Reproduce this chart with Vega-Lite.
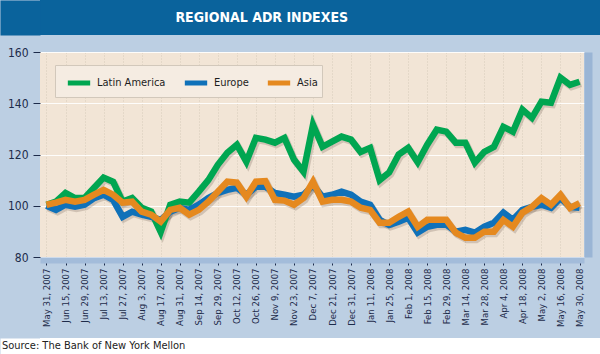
{
  "$schema": "https://vega.github.io/schema/vega-lite/v6.json",
  "background": "#bccfe3",
  "padding": 0,
  "spacing": 11,
  "columns": 1,
  "resolve": {"legend": {"color": "independent"}, "scale": {"x": "independent", "y": "independent"}},
  "config": {
    "font": "DejaVu Sans Condensed, Liberation Sans, sans-serif",
    "view": {"stroke": null}
  },
  "concat": [
    {
      "width": 560,
      "height": 35,
      "view": {"fill": "#0a639c", "stroke": null},
      "data": {"values": [{"title": "REGIONAL ADR INDEXES"}]},
      "mark": {"type": "text", "font": "DejaVu Sans Condensed, Liberation Sans, sans-serif", "fontWeight": "bold", "fontSize": 14, "color": "#ffffff", "baseline": "middle", "align": "center"},
      "encoding": {
        "text": {"field": "title", "type": "nominal"},
        "x": {"datum": 0.396, "type": "quantitative", "scale": {"domain": [0, 1]}, "axis": null},
        "y": {"datum": 0, "type": "quantitative", "scale": {"domain": [-1, 1]},
              "axis": {"title": null, "labels": false, "ticks": false, "grid": false, "domain": true, "domainColor": "#0a639c", "domainWidth": 40, "domainCap": "butt", "offset": 20, "minExtent": 0, "maxExtent": 0}}
      }
    },
    {
      "width": 544,
      "height": 205,
      "view": {"fill": "#f2e5d6", "stroke": null},
      "resolve": {"axis": {"y": "independent"}},
      "data": {"values": [
        {"week":0,"region":"Latin America","value":100.4},{"week":1,"region":"Latin America","value":101.6},{"week":2,"region":"Latin America","value":105},{"week":3,"region":"Latin America","value":103},{"week":4,"region":"Latin America","value":103},{"week":5,"region":"Latin America","value":107},{"week":6,"region":"Latin America","value":111},{"week":7,"region":"Latin America","value":109.4},{"week":8,"region":"Latin America","value":101.6},{"week":9,"region":"Latin America","value":103},{"week":10,"region":"Latin America","value":99.2},{"week":11,"region":"Latin America","value":97.7},{"week":12,"region":"Latin America","value":89.8},{"week":13,"region":"Latin America","value":100.4},{"week":14,"region":"Latin America","value":101.6},{"week":15,"region":"Latin America","value":101.2},{"week":16,"region":"Latin America","value":105.5},{"week":17,"region":"Latin America","value":110},{"week":18,"region":"Latin America","value":116},{"week":19,"region":"Latin America","value":120.7},{"week":20,"region":"Latin America","value":123.8},{"week":21,"region":"Latin America","value":117.2},{"week":22,"region":"Latin America","value":126.5},{"week":23,"region":"Latin America","value":125.8},{"week":24,"region":"Latin America","value":124.6},{"week":25,"region":"Latin America","value":126.5},{"week":26,"region":"Latin America","value":118},{"week":27,"region":"Latin America","value":113.3},{"week":28,"region":"Latin America","value":131.6},{"week":29,"region":"Latin America","value":123},{"week":30,"region":"Latin America","value":125},{"week":31,"region":"Latin America","value":127},{"week":32,"region":"Latin America","value":125.8},{"week":33,"region":"Latin America","value":121},{"week":34,"region":"Latin America","value":122.6},{"week":35,"region":"Latin America","value":110},{"week":36,"region":"Latin America","value":113},{"week":37,"region":"Latin America","value":120},{"week":38,"region":"Latin America","value":122.6},{"week":39,"region":"Latin America","value":117},{"week":40,"region":"Latin America","value":123.8},{"week":41,"region":"Latin America","value":129.7},{"week":42,"region":"Latin America","value":128.9},{"week":43,"region":"Latin America","value":124.6},{"week":44,"region":"Latin America","value":124.6},{"week":45,"region":"Latin America","value":116.8},{"week":46,"region":"Latin America","value":121},{"week":47,"region":"Latin America","value":123},{"week":48,"region":"Latin America","value":130.8},{"week":49,"region":"Latin America","value":128.9},{"week":50,"region":"Latin America","value":137.5},{"week":51,"region":"Latin America","value":134.3},{"week":52,"region":"Latin America","value":140.6},{"week":53,"region":"Latin America","value":140.2},{"week":54,"region":"Latin America","value":150},{"week":55,"region":"Latin America","value":147.2},{"week":56,"region":"Latin America","value":148.4},
        {"week":0,"region":"Europe","value":100},{"week":1,"region":"Europe","value":98.4},{"week":2,"region":"Europe","value":100.4},{"week":3,"region":"Europe","value":99.6},{"week":4,"region":"Europe","value":100.4},{"week":5,"region":"Europe","value":103},{"week":6,"region":"Europe","value":104.3},{"week":7,"region":"Europe","value":102.3},{"week":8,"region":"Europe","value":95.7},{"week":9,"region":"Europe","value":97.7},{"week":10,"region":"Europe","value":96.5},{"week":11,"region":"Europe","value":95.7},{"week":12,"region":"Europe","value":94.5},{"week":13,"region":"Europe","value":97.7},{"week":14,"region":"Europe","value":99.2},{"week":15,"region":"Europe","value":98.4},{"week":16,"region":"Europe","value":100.4},{"week":17,"region":"Europe","value":103},{"week":18,"region":"Europe","value":105},{"week":19,"region":"Europe","value":106.2},{"week":20,"region":"Europe","value":107},{"week":21,"region":"Europe","value":104.3},{"week":22,"region":"Europe","value":107.4},{"week":23,"region":"Europe","value":107.4},{"week":24,"region":"Europe","value":105},{"week":25,"region":"Europe","value":104.3},{"week":26,"region":"Europe","value":103.5},{"week":27,"region":"Europe","value":104.3},{"week":28,"region":"Europe","value":108},{"week":29,"region":"Europe","value":103.5},{"week":30,"region":"Europe","value":104.3},{"week":31,"region":"Europe","value":105.5},{"week":32,"region":"Europe","value":104.3},{"week":33,"region":"Europe","value":101.6},{"week":34,"region":"Europe","value":100.4},{"week":35,"region":"Europe","value":94.5},{"week":36,"region":"Europe","value":92.5},{"week":37,"region":"Europe","value":93.8},{"week":38,"region":"Europe","value":95.3},{"week":39,"region":"Europe","value":89.5},{"week":40,"region":"Europe","value":91.8},{"week":41,"region":"Europe","value":92.6},{"week":42,"region":"Europe","value":92.6},{"week":43,"region":"Europe","value":89.9},{"week":44,"region":"Europe","value":90.6},{"week":45,"region":"Europe","value":89.5},{"week":46,"region":"Europe","value":91.8},{"week":47,"region":"Europe","value":93.4},{"week":48,"region":"Europe","value":97.3},{"week":49,"region":"Europe","value":94.5},{"week":50,"region":"Europe","value":98.4},{"week":51,"region":"Europe","value":99.6},{"week":52,"region":"Europe","value":100.4},{"week":53,"region":"Europe","value":99.2},{"week":54,"region":"Europe","value":103},{"week":55,"region":"Europe","value":99.6},{"week":56,"region":"Europe","value":99.2},
        {"week":0,"region":"Asia","value":100.4},{"week":1,"region":"Asia","value":101.2},{"week":2,"region":"Asia","value":102.3},{"week":3,"region":"Asia","value":101.6},{"week":4,"region":"Asia","value":102.3},{"week":5,"region":"Asia","value":104.3},{"week":6,"region":"Asia","value":106.2},{"week":7,"region":"Asia","value":104.3},{"week":8,"region":"Asia","value":101.2},{"week":9,"region":"Asia","value":101.6},{"week":10,"region":"Asia","value":97.7},{"week":11,"region":"Asia","value":96.5},{"week":12,"region":"Asia","value":93.8},{"week":13,"region":"Asia","value":98.4},{"week":14,"region":"Asia","value":99.2},{"week":15,"region":"Asia","value":96.5},{"week":16,"region":"Asia","value":98.4},{"week":17,"region":"Asia","value":101.6},{"week":18,"region":"Asia","value":105.5},{"week":19,"region":"Asia","value":109.4},{"week":20,"region":"Asia","value":109},{"week":21,"region":"Asia","value":103.5},{"week":22,"region":"Asia","value":109.4},{"week":23,"region":"Asia","value":109.6},{"week":24,"region":"Asia","value":102.3},{"week":25,"region":"Asia","value":102},{"week":26,"region":"Asia","value":100.4},{"week":27,"region":"Asia","value":103},{"week":28,"region":"Asia","value":109.4},{"week":29,"region":"Asia","value":101.6},{"week":30,"region":"Asia","value":102.3},{"week":31,"region":"Asia","value":102.3},{"week":32,"region":"Asia","value":101.6},{"week":33,"region":"Asia","value":99.2},{"week":34,"region":"Asia","value":98.4},{"week":35,"region":"Asia","value":93.4},{"week":36,"region":"Asia","value":93.4},{"week":37,"region":"Asia","value":95.7},{"week":38,"region":"Asia","value":97.7},{"week":39,"region":"Asia","value":91.8},{"week":40,"region":"Asia","value":94.5},{"week":41,"region":"Asia","value":94.5},{"week":42,"region":"Asia","value":94.5},{"week":43,"region":"Asia","value":89.5},{"week":44,"region":"Asia","value":87.5},{"week":45,"region":"Asia","value":87.5},{"week":46,"region":"Asia","value":89.9},{"week":47,"region":"Asia","value":89.9},{"week":48,"region":"Asia","value":94.5},{"week":49,"region":"Asia","value":91.8},{"week":50,"region":"Asia","value":97.3},{"week":51,"region":"Asia","value":99.6},{"week":52,"region":"Asia","value":103},{"week":53,"region":"Asia","value":100.4},{"week":54,"region":"Asia","value":104.3},{"week":55,"region":"Asia","value":99.2},{"week":56,"region":"Asia","value":101}
      ]},
      "encoding": {
        "x": {
          "field": "week", "type": "quantitative",
          "scale": {"domain": [-0.68, 56.47], "nice": false, "zero": false},
          "axis": {
            "title": null,
            "values": [0,2,4,6,8,10,12,14,16,18,20,22,24,26,28,30,32,34,36,38,40,42,44,46,48,50,52,54,56],
            "labelExpr": "['May 31, 2007','Jun 15, 2007','Jun 29, 2007','Jul 13, 2007','Jul 27, 2007','Aug 3, 2007','Aug 17, 2007','Aug 31, 2007','Sep 14, 2007','Sep 29, 2007','Oct 12, 2007','Oct 26, 2007','Nov 9, 2007','Nov 23, 2007','Dec 7, 2007','Dec 21, 2007','Dec 31, 2007','Jan 11, 2008','Jan 25, 2008','Feb 1, 2008','Feb 15, 2008','Feb 29, 2008','Mar 14, 2008','Mar 28, 2008','Apr 4, 2008','Apr 18, 2008','May 2, 2008','May 16, 2008','May 30, 2008'][round(datum.value/2)]",
            "labelAngle": -90,
            "labelFont": "DejaVu Sans Condensed, Liberation Sans, sans-serif",
            "labelFontSize": 9.5,
            "labelColor": "#1d2b4a",
            "labelPadding": 3,
            "labelOverlap": false,
            "labelFlush": false,
            "offset": 3,
            "domain": true,
            "domainColor": "#a3bcda",
            "domainWidth": 6,
            "ticks": true,
            "tickColor": "#1d2b4a",
            "tickSize": 5,
            "grid": true,
            "gridColor": "#d6cabb",
            "gridDash": [1, 2],
            "gridWidth": 1
          }
        }
      },
      "layer": [
        {
          "mark": {"type": "line", "strokeWidth": 7, "strokeJoin": "miter", "color": "#5b4a3a", "opacity": 0.22},
          "encoding": {
            "y": {
              "field": "value", "type": "quantitative",
              "scale": {"domain": [80, 160], "nice": false, "zero": false},
              "axis": {"orient": "right", "title": null, "labels": false, "ticks": false, "grid": false, "domain": true, "domainColor": "#9ab5d5", "domainWidth": 8, "domainCap": "butt", "offset": 4, "minExtent": 0, "maxExtent": 0}
            },
            "detail": {"field": "region", "type": "nominal"},
            "xOffset": {"value": 1.5},
            "yOffset": {"value": 2}
          }
        },
        {
          "mark": {"type": "line", "strokeWidth": 6.5, "strokeJoin": "miter"},
          "encoding": {
            "y": {
              "field": "value", "type": "quantitative",
              "scale": {"domain": [80, 160], "nice": false, "zero": false},
              "axis": {
                "title": null,
                "values": [80, 100, 120, 140, 160],
                "labelFont": "DejaVu Sans Condensed, Liberation Sans, sans-serif",
                "labelFontSize": 12,
                "labelColor": "#1d2b4a",
                "labelPadding": 5,
                "domain": false,
                "tickColor": "#1d2b4a",
                "tickSize": 7,
                "grid": true,
                "gridColor": "#ffffff",
                "gridWidth": 1,
                "gridOpacity": 0.9,
                "minExtent": 40,
                "maxExtent": 40
              }
            },
            "color": {
              "field": "region", "type": "nominal",
              "scale": {"domain": ["Latin America", "Europe", "Asia"], "range": ["#00a651", "#0f71b9", "#e5891f"]},
              "legend": {
                "title": null,
                "orient": "none",
                "legendX": 15,
                "legendY": 13,
                "direction": "horizontal",
                "gridAlign": "none",
                "symbolType": "stroke",
                "symbolStrokeWidth": 5,
                "symbolSize": 500,
                "symbolOffset": 6,
                "labelFont": "DejaVu Sans Condensed, Liberation Sans, sans-serif",
                "labelFontSize": 11,
                "labelColor": "#1d1d1d",
                "columnPadding": 8,
                "padding": 4,
                "fillColor": "#f5ece2",
                "strokeColor": "#d2c8bb"
              }
            }
          }
        }
      ]
    },
    {
      "width": 560,
      "height": 16,
      "view": {"fill": "#ffffff", "stroke": null},
      "data": {"values": [{"source": "Source: The Bank of New York Mellon"}]},
      "mark": {"type": "text", "font": "DejaVu Sans Condensed, Liberation Sans, sans-serif", "fontSize": 11, "color": "#222222", "align": "left", "baseline": "middle"},
      "encoding": {
        "text": {"field": "source", "type": "nominal"},
        "x": {"datum": -0.068, "type": "quantitative", "scale": {"domain": [0, 1]}, "axis": null},
        "y": {"datum": 0, "type": "quantitative", "scale": {"domain": [-1, 1]},
              "axis": {"title": null, "labels": false, "ticks": false, "grid": false, "domain": true, "domainColor": "#ffffff", "domainWidth": 40, "domainCap": "butt", "offset": 20, "minExtent": 0, "maxExtent": 0}}
      }
    }
  ]
}
